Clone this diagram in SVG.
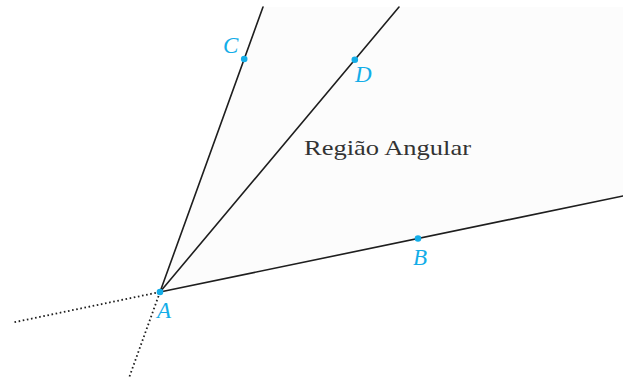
<svg xmlns="http://www.w3.org/2000/svg" width="623" height="380" viewBox="0 0 623 380">
<style>
.ray{stroke:#1e1e1e;stroke-width:1.6;fill:none;stroke-linecap:round}
.dot{stroke:#1e1e1e;stroke-width:1.8;fill:none;stroke-dasharray:1.6 2.6}
.pt{fill:#13ade8}
.lbl{font-family:"Liberation Serif",serif;font-style:italic;font-size:23px;fill:#13ade8}
.txt{font-family:"Liberation Serif",serif;font-size:21px;fill:#333}
</style>
<rect width="623" height="380" fill="#fff"/>
<polygon id="regiao" points="160,292 263,7 623,7 623,196" fill="#fcfcfc"/>
<g id="connectors">
<line class="ray" x1="160" y1="292" x2="263" y2="7"/>
<line class="ray" x1="160" y1="292" x2="399" y2="7"/>
<line class="ray" x1="160" y1="292" x2="623" y2="196"/>
<line class="dot" x1="160" y1="292" x2="12" y2="322.7"/>
<line class="dot" x1="160" y1="292" x2="129.3" y2="377"/>
</g>
<g id="A"><circle class="pt" cx="160" cy="292" r="3.3"/><text class="lbl" x="157" y="318">A</text></g>
<g id="B"><circle class="pt" cx="418" cy="238.5" r="3.3"/><text class="lbl" x="413" y="265">B</text></g>
<g id="C"><circle class="pt" cx="244.2" cy="59" r="3.3"/><text class="lbl" x="223" y="53">C</text></g>
<g id="D"><circle class="pt" cx="354.8" cy="59.8" r="3.3"/><text class="lbl" x="355" y="82">D</text></g>
<g id="label"><text class="txt" x="304" y="155" textLength="167" lengthAdjust="spacingAndGlyphs">Região Angular</text></g>
</svg>
